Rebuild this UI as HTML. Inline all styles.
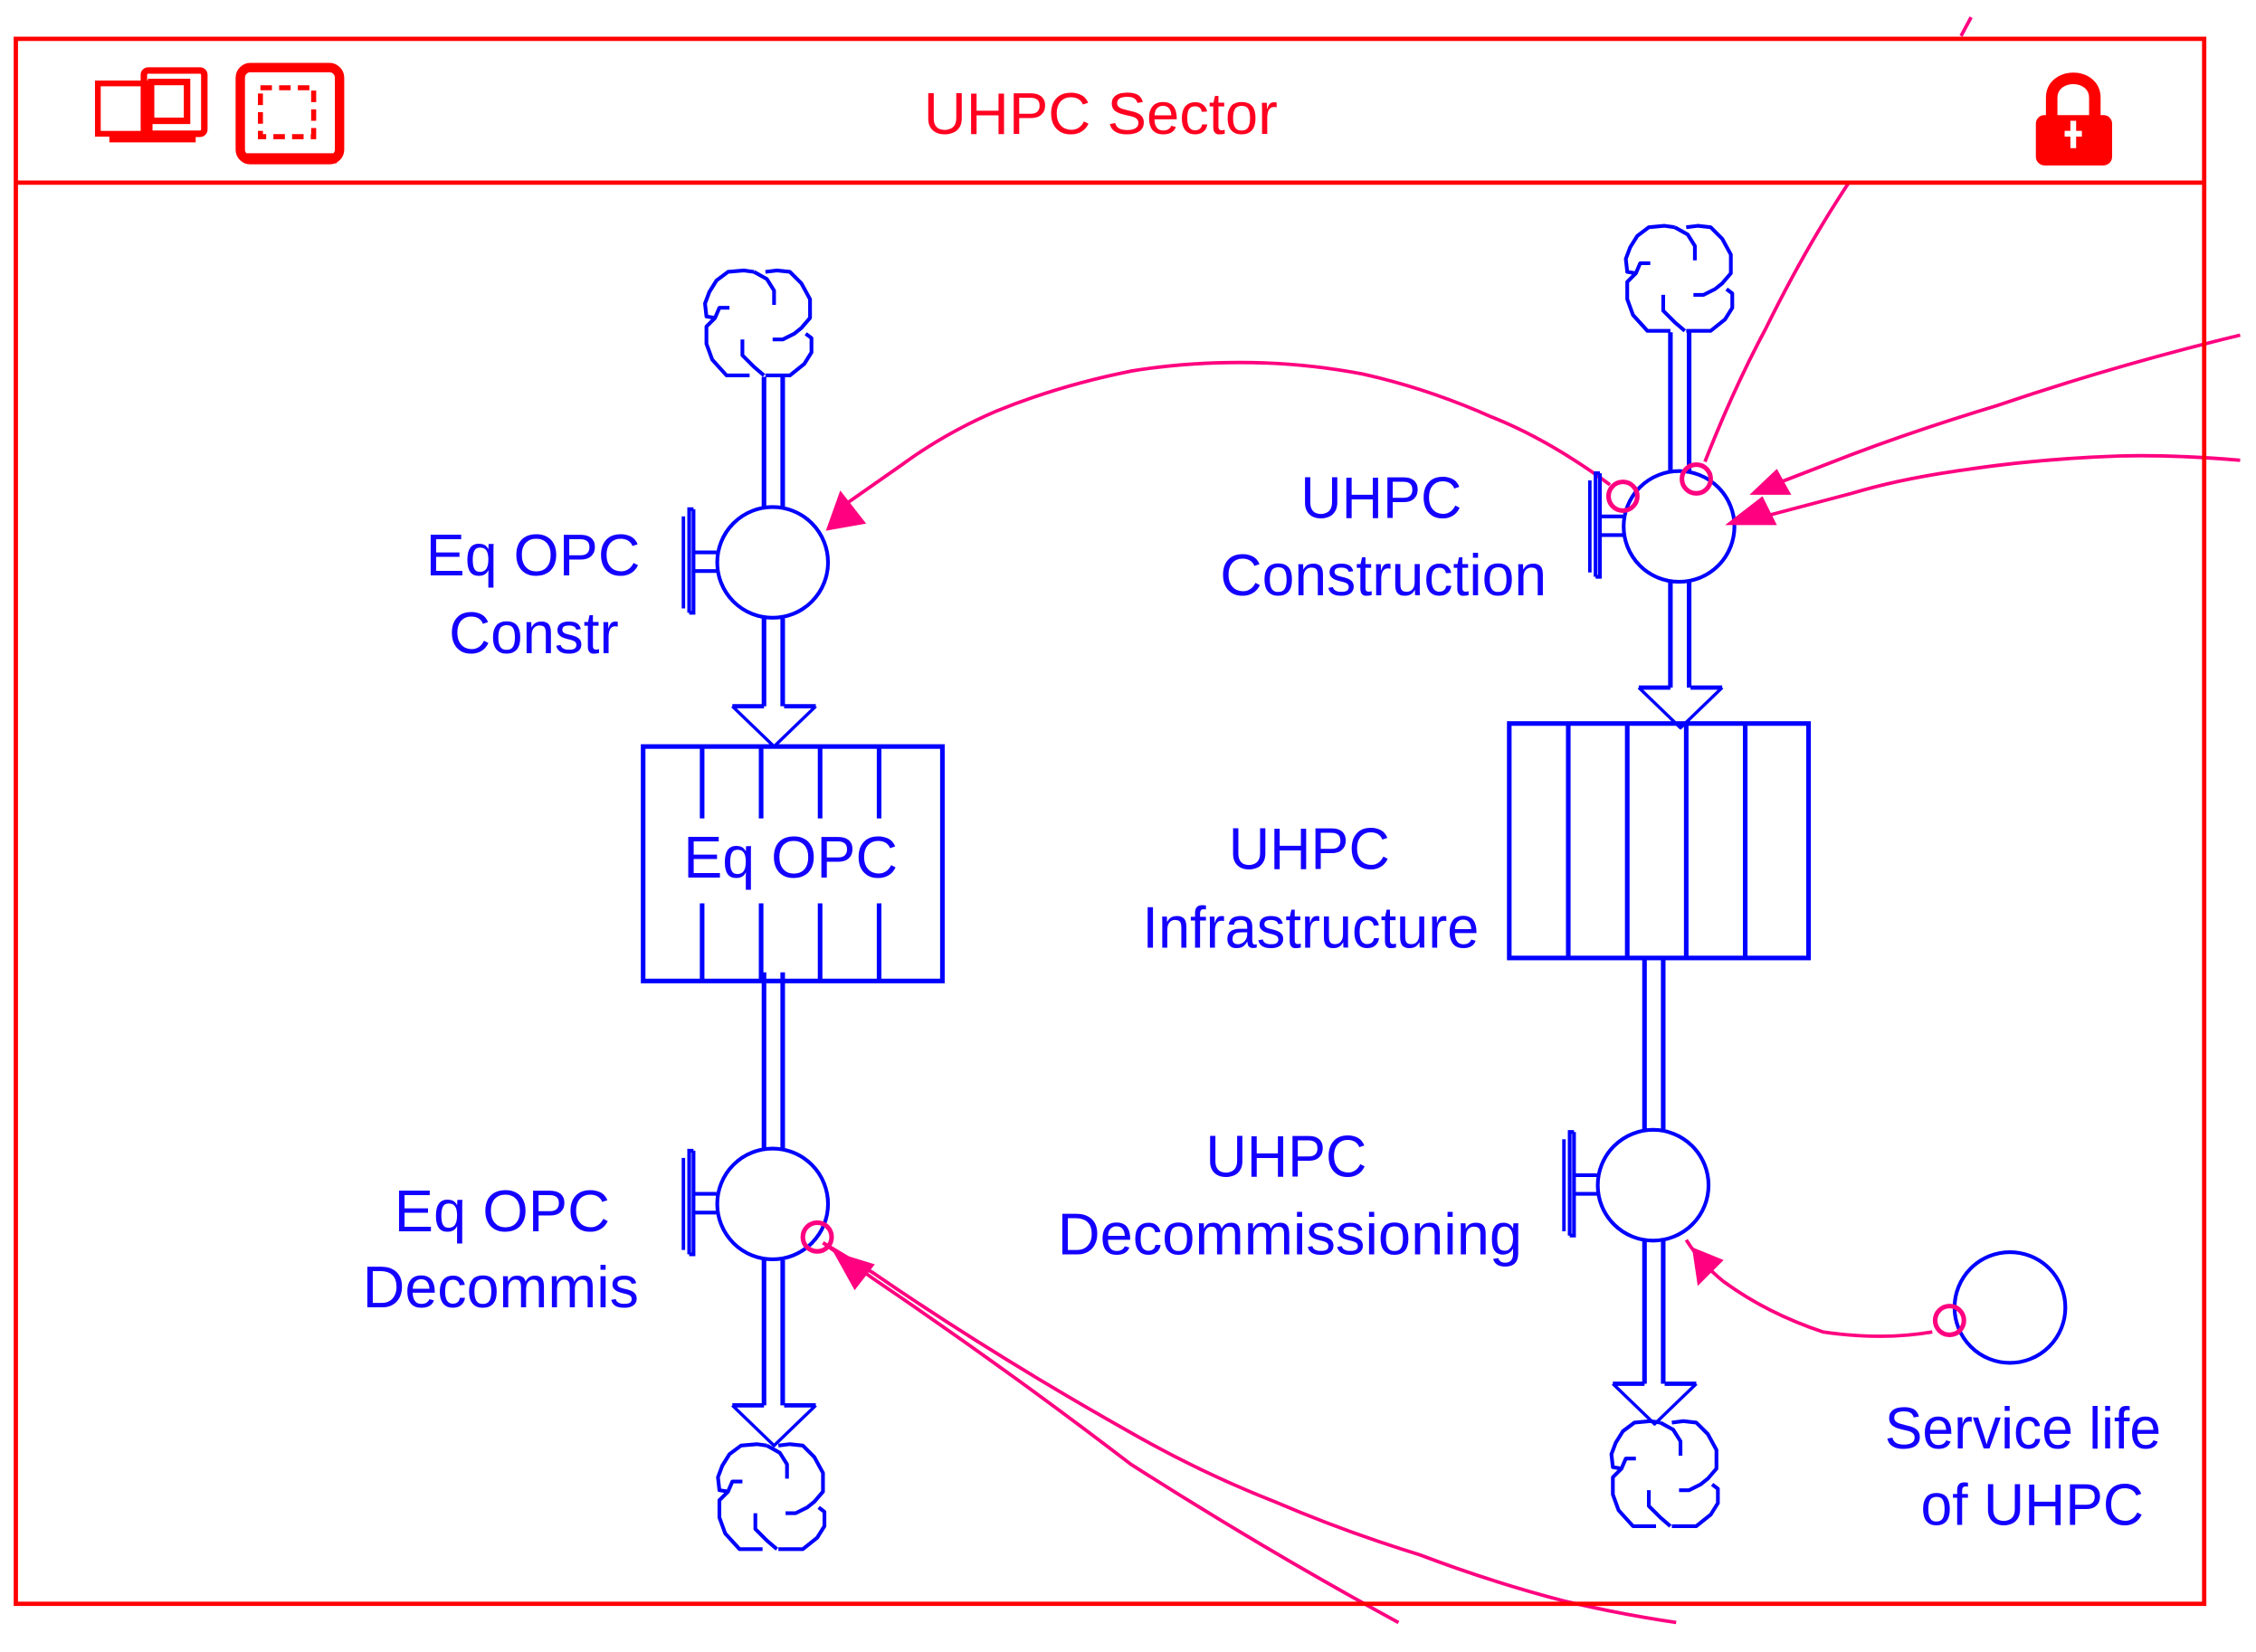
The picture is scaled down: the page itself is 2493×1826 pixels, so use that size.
<!DOCTYPE html>
<html>
<head>
<meta charset="utf-8">
<title>UHPC Sector</title>
<style>
html,body{margin:0;padding:0;background:#fff;width:2493px;height:1826px;overflow:hidden}
svg{display:block}
text{font-family:"Liberation Sans",sans-serif;font-size:41px;fill:#1400ff}
</style>
</head>
<body>
<svg width="2493" height="1826" viewBox="0 0 1568 1148.5" xmlns="http://www.w3.org/2000/svg">
<defs>
<g id="cloud" fill="none" stroke="#0000ff" stroke-width="2.6" stroke-linejoin="round">
<path d="M-3,-36L-10,-37L-21,-36L-29,-30L-34,-22L-37,-14L-36,-5L-30,-4L-27,-11L-20,-11"/>
<path d="M-3,-36L6,-31L11,-23V-13"/>
<path d="M5,-36L13,-37L22,-36L30,-28L36,-17V-4L30,3L25,7L17,11H10"/>
<path d="M-30,-4L-36,2V14L-32,25L-22,36H-6"/>
<path d="M-11,11V22L-3,30L4,36"/>
<path d="M33,7L37,10V20L32,28L22,36H5"/>
</g>
<g id="valve" fill="none" stroke="#0000ff" stroke-width="2.6">
<circle r="38.5"/>
<path d="M-39,-7H-55M-39,6H-55"/>
<path d="M-55,-37V35H-58M-55,-37H-58V35" stroke-width="2.6"/>
<path d="M-62,-32V32" stroke-width="2.4"/>
</g>
<g id="head" fill="none" stroke="#0000ff" stroke-linejoin="round">
<path d="M-7,0H-29M7,0H29" stroke-width="3"/>
<path d="M-29,0L0,28L29,0" stroke-width="2.2"/>
</g>
</defs>

<!-- pink connectors -->
<g fill="none" stroke="#ff0080" stroke-width="2.4" stroke-linejoin="round">
<path d="M1119,337Q1077,306 1037,290Q992,270 947,260Q905,252 862,252Q822,252 786,258Q736,268 692,286Q657,301 627,323L587,351"/>
<path d="M1370,12L1363,25"/>
<path d="M1285,127Q1255,172 1227,229Q1205,270 1185,321"/>
<path d="M1557,233Q1470,254 1388,282Q1335,298 1287,316L1225,340"/>
<path d="M1557,320Q1510,316 1473,317Q1415,319 1363,327Q1320,333 1287,343L1215,362"/>
<path d="M572,864L607,889Q700,952 786,1018Q880,1078 972,1128"/>
<path d="M572,864L607,885Q690,942 786,996Q835,1024 886,1044Q935,1065 987,1081Q1037,1100 1087,1113Q1125,1122 1165,1128"/>
<path d="M1343,926Q1308,932 1267,926Q1228,913 1198,891Q1182,878 1172,862"/>
</g>

<!-- frame -->
<rect x="11" y="27" width="1521" height="1088" fill="none" stroke="#ff0000" stroke-width="3"/>
<path d="M11,127H1532" stroke="#ff0000" stroke-width="3"/>

<!-- clouds -->
<use href="#cloud" x="527" y="225"/>
<use href="#cloud" x="1167" y="194"/>
<use href="#cloud" x="536" y="1041"/>
<use href="#cloud" x="1157" y="1025"/>

<!-- pipes -->
<g stroke="#0000ff" stroke-width="3.2" fill="none">
<path d="M531,262V353M544,262V353M531,430V491M544,430V491"/>
<path d="M531,676V800M544,676V800M531,876V977M544,876V977"/>
<path d="M1161,231V328M1174,231V328M1161,404V478M1174,404V478"/>
<path d="M1143,666V786M1156,666V786M1143,862V962M1156,862V962"/>
</g>
<use href="#head" x="538" y="491"/>
<use href="#head" x="538" y="977"/>
<use href="#head" x="1168" y="478"/>
<use href="#head" x="1150" y="962"/>

<!-- valves -->
<use href="#valve" x="537" y="391"/>
<use href="#valve" x="537" y="837"/>
<use href="#valve" x="1167" y="366"/>
<use href="#valve" x="1149" y="824"/>
<circle cx="1397" cy="909" r="38.5" fill="none" stroke="#0000ff" stroke-width="2.6"/>

<!-- stocks -->
<g fill="none" stroke="#0000ff" stroke-width="3.2">
<rect x="447" y="519" width="208" height="163"/>
<path d="M488,519V569M529,519V569M570,519V569M611,519V569M488,628V682M529,628V682M570,628V682M611,628V682"/>
<rect x="1049" y="503" width="208" height="163"/>
<path d="M1090,503V666M1131,503V666M1172,503V666M1213,503V666"/>
</g>

<!-- arrowheads and rings -->
<g fill="#ff0080">
<polygon points="574,369 584,341 602,364"/>
<polygon points="1216,344 1235,326 1245,344"/>
<polygon points="1199,365 1225,345 1235,365"/>
<polygon points="579,870 608,879 594,897"/>
<polygon points="1176,867 1198,876 1180,894"/>
</g>
<g fill="none" stroke="#ff0080" stroke-width="3.2">
<circle cx="1128" cy="345" r="10"/>
<circle cx="1179" cy="333" r="10"/>
<circle cx="568" cy="860" r="10"/>
<circle cx="1355" cy="918" r="10"/>
</g>

<!-- labels -->
<text x="642" y="93" textLength="246" lengthAdjust="spacingAndGlyphs" style="fill:#ff0020">UHPC Sector</text>
<text x="296" y="400" textLength="149" lengthAdjust="spacingAndGlyphs">Eq OPC</text>
<text x="312" y="454" textLength="118" lengthAdjust="spacingAndGlyphs">Constr</text>
<text x="904" y="360" textLength="112" lengthAdjust="spacingAndGlyphs">UHPC</text>
<text x="848" y="414" textLength="227" lengthAdjust="spacingAndGlyphs">Construction</text>
<text x="475" y="610" textLength="149" lengthAdjust="spacingAndGlyphs">Eq OPC</text>
<text x="854" y="604" textLength="112" lengthAdjust="spacingAndGlyphs">UHPC</text>
<text x="794" y="659" textLength="234" lengthAdjust="spacingAndGlyphs">Infrastructure</text>
<text x="274" y="856" textLength="150" lengthAdjust="spacingAndGlyphs">Eq OPC</text>
<text x="252" y="909" textLength="192" lengthAdjust="spacingAndGlyphs">Decommis</text>
<text x="838" y="818" textLength="112" lengthAdjust="spacingAndGlyphs">UHPC</text>
<text x="735" y="872" textLength="323" lengthAdjust="spacingAndGlyphs">Decommissioning</text>
<text x="1310" y="1007" textLength="192" lengthAdjust="spacingAndGlyphs">Service life</text>
<text x="1335" y="1060" textLength="155" lengthAdjust="spacingAndGlyphs">of UHPC</text>

<!-- icons -->
<g fill="none" stroke="#ff0000">
<rect x="68" y="58" width="36" height="35" stroke-width="4"/>
<path d="M76,96H136" stroke-width="6"/>
<rect x="100" y="49" width="42" height="44" rx="3" stroke-width="4.5"/>
<rect x="105" y="57" width="25" height="27" stroke-width="4.5"/>
<rect x="167" y="47" width="69" height="64" rx="7" stroke-width="6.5"/>
<path d="M170,110H234" stroke-width="7"/>
<rect x="181" y="61" width="37" height="34" stroke-width="3.5" stroke-dasharray="8 5"/>
</g>
<g>
<path d="M1426,85V68C1426,50 1456,50 1456,68V85" fill="none" stroke="#ff0000" stroke-width="8"/>
<rect x="1415" y="80" width="53" height="35" rx="6" fill="#ff0000"/>
<path d="M1441,84V103M1435,93H1447" stroke="#fff" stroke-width="4"/>
</g>
</svg>
</body>
</html>
